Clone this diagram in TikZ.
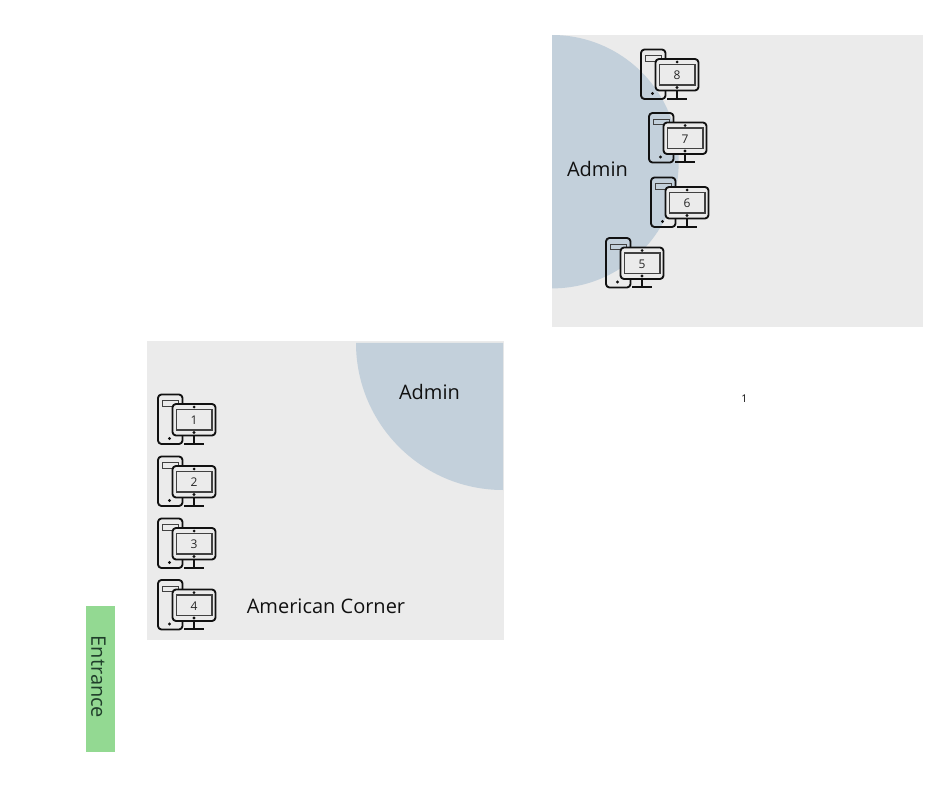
\documentclass[tikz,border=0pt]{standalone}
\usepackage{fontspec}
\setmainfont{Open Sans}
\definecolor{panel}{HTML}{EBEBEB}
\definecolor{adminblue}{HTML}{C3D0DB}
\definecolor{entr}{HTML}{93D992}
\definecolor{ink}{HTML}{111111}
\definecolor{entrink}{HTML}{1F3D2A}
\tikzset{
  x=0.75pt,y=-0.75pt,
  panelbox/.style={fill=panel,draw=none},
  adminzone/.style={fill=adminblue,draw=none},
  iconline/.style={draw=ink,line width=1.4pt,line join=round},
  iconthin/.style={draw=ink!80,line width=0.6pt},
  bigtext/.style={font=\fontsize{15}{18}\selectfont,text=ink,inner sep=0pt},
  digit/.style={font=\fontsize{9}{10}\selectfont,text=black!85,inner sep=0pt},
  pics/workstation/.style={code={
    \draw[iconline,rounded corners=2.6pt] (0,0) rectangle (24.5,49.5);
    \draw[iconthin,line width=0.6pt] (4,6) rectangle (20,11.5);
    \fill[ink] (11.5,44) circle (1.7);
    \draw[iconline,fill=panel,rounded corners=2.6pt] (14.5,9.5) rectangle (57.5,41);
    \draw[iconthin,line width=0.9pt,fill=panel] (18.5,15) rectangle (54,35.5);
    \fill[ink] (36,12.5) circle (1.5);
    \fill[ink] (36,38) circle (1.7);
    \draw[iconline] (36,41) -- (36,49.3);
    \draw[iconline] (26,49.3) -- (45.5,49.3);
    \node[digit] at (36,26) {#1};
  }}
}
\begin{document}
\begin{tikzpicture}
\useasboundingbox (0,0) rectangle (940,788);
\path[panelbox] (552,35) rectangle (923,327);
\path[adminzone] (552,35) arc[start angle=-90,end angle=90,radius=126.7] -- cycle;
\path[panelbox] (147,341) rectangle (503.5,640);
\path[adminzone] (356,343) arc[start angle=180,end angle=90,radius=147] -- (503,343) -- cycle;
\path[fill=entr] (85.5,606) rectangle (114.5,752);
\node[bigtext,rotate=-90,text=entrink] (entrance) at (98.5,677) {Entrance};
\node[bigtext] (adminTop) at (597.5,169.5) {Admin};
\node[bigtext] (adminLeft) at (429.5,391.5) {Admin};
\node[bigtext] (corner) at (326,606.5) {American Corner};
\node[font=\fontsize{8}{9}\selectfont,text=ink,inner sep=0pt] (pagenum) at (744.5,399) {1};
\pic (w1) at (158,394.5) {workstation={1}};
\pic (w2) at (158,456.5) {workstation={2}};
\pic (w3) at (158,518.5) {workstation={3}};
\pic (w4) at (158,580) {workstation={4}};
\pic (w8) at (641,49.5) {workstation={8}};
\pic (w7) at (649,113) {workstation={7}};
\pic (w6) at (651,177.5) {workstation={6}};
\pic (w5) at (606,238) {workstation={5}};
\end{tikzpicture}
\end{document}
